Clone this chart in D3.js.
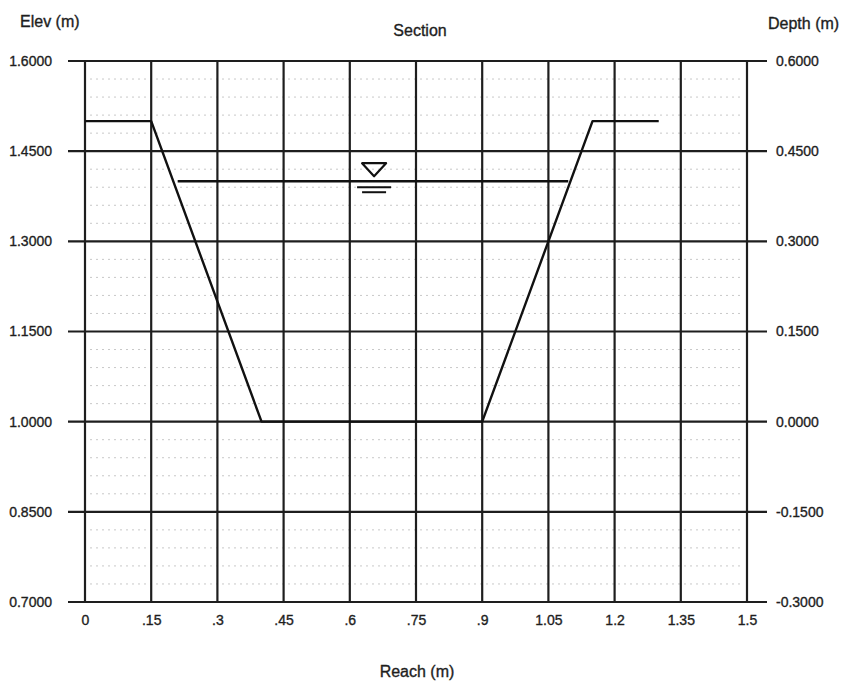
<!DOCTYPE html>
<html>
<head>
<meta charset="utf-8">
<script src="https://cdn.jsdelivr.net/npm/d3@7"></script>
<style>
  body { margin: 0; background: #fff; }
  text { font-family: "Liberation Sans", Arial, sans-serif; fill: #1e1e1e;
         stroke: #1e1e1e; stroke-width: 0.35px; }
</style>
</head>
<body>
<svg id="chart" width="847" height="688"></svg>
<script>
// axis ticks
var reachTicks = [0, 0.15, 0.3, 0.45, 0.6, 0.75, 0.9, 1.05, 1.2, 1.35, 1.5];
var reachLabels = ["0", ".15", ".3", ".45", ".6", ".75", ".9", "1.05", "1.2", "1.35", "1.5"];
var elevTicks = [0.7, 0.85, 1.0, 1.15, 1.3, 1.45, 1.6];
var depthTicks = [-0.3, -0.15, 0.0, 0.15, 0.3, 0.45, 0.6];

// channel cross section
var sectionReach = [0, 0.15, 0.4, 0.9, 1.15, 1.3];
var sectionElev = [1.5, 1.5, 1.0, 1.0, 1.5, 1.5];

// water surface
var waterReach = [0.21, 1.095];
var waterElev = 1.4;
var waterSymbolReach = 0.655;

var svg = d3.select("#chart");

var x = d3.scaleLinear().domain([0, 1.5]).range([85, 747]);
var y = d3.scaleLinear().domain([0.7, 1.6]).range([602, 61]);
var yDepth = d3.scaleLinear().domain([-0.3, 0.6]).range([602, 61]);

var fmt = function(d) { return d3.format(".4f")(d).replace("\u2212", "-"); };

// faint dotted minor lines, 4 between each pair of major ticks
var minorElev = [];
for (var i = 0; i < elevTicks.length - 1; i++) {
    for (var k = 1; k < 5; k++) {
        minorElev.push(elevTicks[i] + k * 0.03);
    }
}

svg.append("g")
    .selectAll("line")
    .data(minorElev)
    .enter()
    .append("line")
    .attr("x1", x(0) + 5)
    .attr("x2", x(1.5) - 5)
    .attr("y1", function(d) { return y(d); })
    .attr("y2", function(d) { return y(d); })
    .style("stroke", "#c8c8c8")
    .style("stroke-width", 1)
    .style("stroke-dasharray", "2,4");

// major horizontal lines, running out past both edges as ticks
svg.append("g")
    .selectAll("line")
    .data(elevTicks)
    .enter()
    .append("line")
    .attr("x1", x(0) - 17)
    .attr("x2", x(1.5) + 20)
    .attr("y1", function(d) { return y(d); })
    .attr("y2", function(d) { return y(d); })
    .style("stroke", "#1e1e1e")
    .style("stroke-width", 2.2);

// vertical lines
svg.append("g")
    .selectAll("line")
    .data(reachTicks)
    .enter()
    .append("line")
    .attr("x1", function(d) { return x(d); })
    .attr("x2", function(d) { return x(d); })
    .attr("y1", y(1.6))
    .attr("y2", y(0.7))
    .style("stroke", "#1e1e1e")
    .style("stroke-width", 2.2);

// axis labels through d3 axes (no tick lines of their own)
var leftAxis = svg.append("g")
    .attr("transform", "translate(" + (x(0) - 30) + ",0)")
    .call(d3.axisLeft(y).tickValues(elevTicks).tickFormat(fmt).tickSize(0));

var rightAxis = svg.append("g")
    .attr("transform", "translate(" + (x(1.5) + 26) + ",0)")
    .call(d3.axisRight(yDepth).tickValues(depthTicks).tickFormat(fmt).tickSize(0));

var bottomAxis = svg.append("g")
    .attr("transform", "translate(0," + (y(0.7) + 10) + ")")
    .call(d3.axisBottom(x).tickValues(reachTicks)
        .tickFormat(function(d, i) { return reachLabels[i]; })
        .tickSize(0));

[leftAxis, rightAxis, bottomAxis].forEach(function(g) {
    g.select(".domain").remove();
    g.selectAll("text")
        .style("font-size", "14px")
        .style("fill", "#1e1e1e");
});

// section line
var sectionData = sectionReach.map(function(r, i) { return [r, sectionElev[i]]; });
var line = d3.line()
    .x(function(d) { return x(d[0]); })
    .y(function(d) { return y(d[1]); });

svg.append("path")
    .datum(sectionData)
    .attr("d", line)
    .style("fill", "none")
    .style("stroke", "#111")
    .style("stroke-width", 2.4)
    .style("stroke-linejoin", "round");

// water surface
svg.append("line")
    .attr("x1", x(waterReach[0]))
    .attr("x2", x(waterReach[1]))
    .attr("y1", y(waterElev))
    .attr("y2", y(waterElev))
    .style("stroke", "#111")
    .style("stroke-width", 2.4);

// water level symbol
var sx = x(waterSymbolReach);
var sy = y(waterElev);
svg.append("path")
    .attr("d", "M" + (sx - 12) + "," + (sy - 18) + "L" + (sx + 12) + "," + (sy - 18) +
               "L" + sx + "," + (sy - 5) + "Z")
    .style("fill", "none")
    .style("stroke", "#111")
    .style("stroke-width", 2.2)
    .style("stroke-linejoin", "round");
svg.append("line")
    .attr("x1", sx - 17).attr("x2", sx + 17)
    .attr("y1", sy + 6).attr("y2", sy + 6)
    .style("stroke", "#111").style("stroke-width", 2);
svg.append("line")
    .attr("x1", sx - 12).attr("x2", sx + 12)
    .attr("y1", sy + 11).attr("y2", sy + 11)
    .style("stroke", "#111").style("stroke-width", 2);

// titles
svg.append("text")
    .attr("x", 420).attr("y", 36)
    .attr("text-anchor", "middle")
    .style("font-size", "16px")
    .text("Section");

svg.append("text")
    .attr("x", 20).attr("y", 27)
    .style("font-size", "16px")
    .text("Elev (m)");

svg.append("text")
    .attr("x", 768).attr("y", 29)
    .style("font-size", "16px")
    .text("Depth (m)");

svg.append("text")
    .attr("x", 417).attr("y", 677)
    .attr("text-anchor", "middle")
    .style("font-size", "16px")
    .text("Reach (m)");
</script>
</body>
</html>
